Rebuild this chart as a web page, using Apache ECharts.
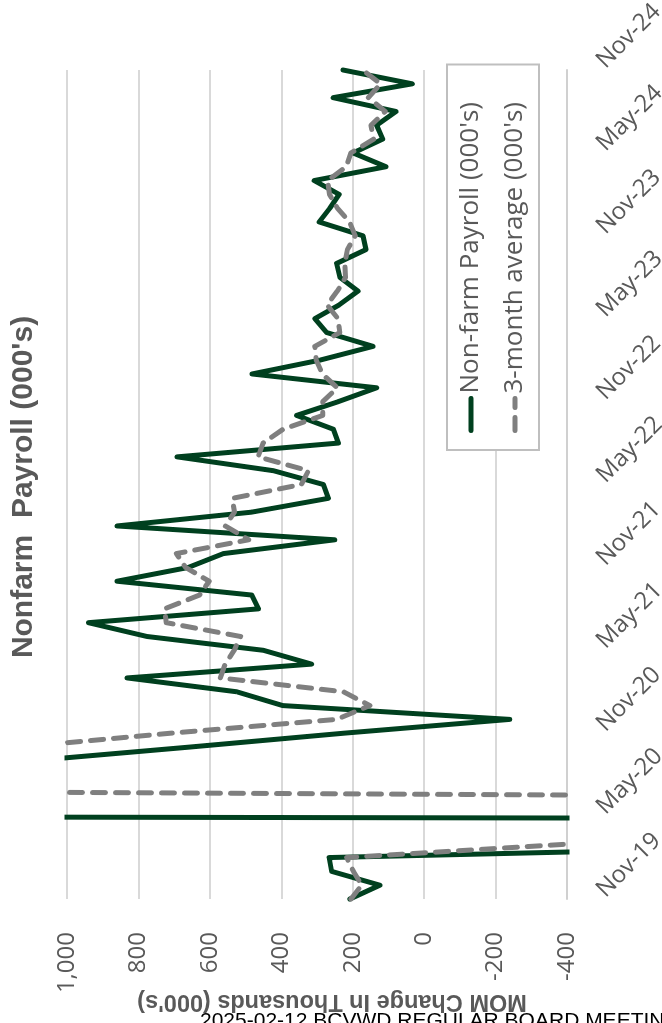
<!DOCTYPE html>
<html>
<head>
<meta charset="utf-8">
<script src="https://cdn.jsdelivr.net/npm/echarts@6.0.0/dist/echarts.min.js"></script>
<style>
  html, body { margin: 0; padding: 0; background: #ffffff; overflow: hidden; width: 662px; height: 1023px; }
  /* the chart is laid out landscape and turned a quarter turn to fit the portrait page */
  #chart {
    position: absolute; left: 0; top: 1023px;
    width: 1023px; height: 662px;
    transform-origin: 0 0; transform: rotate(-90deg);
  }
  #footer {
    position: absolute; left: 200px; top: 1009px;
    font-family: "Liberation Sans", Arial, sans-serif; font-size: 21px; line-height: 21px;
    color: #000000; white-space: nowrap;
  }
</style>
</head>
<body>
<div id="chart"></div>
<div id="footer">2025-02-12 BCVWD REGULAR BOARD MEETING AGENDA PACKAGE</div>
<script>
// Months shown on the category axis (Nov-19 through Nov-24)
var months = [
  "Nov-19","Dec-19",
  "Jan-20","Feb-20","Mar-20","Apr-20","May-20","Jun-20","Jul-20","Aug-20","Sep-20","Oct-20","Nov-20","Dec-20",
  "Jan-21","Feb-21","Mar-21","Apr-21","May-21","Jun-21","Jul-21","Aug-21","Sep-21","Oct-21","Nov-21","Dec-21",
  "Jan-22","Feb-22","Mar-22","Apr-22","May-22","Jun-22","Jul-22","Aug-22","Sep-22","Oct-22","Nov-22","Dec-22",
  "Jan-23","Feb-23","Mar-23","Apr-23","May-23","Jun-23","Jul-23","Aug-23","Sep-23","Oct-23","Nov-23","Dec-23",
  "Jan-24","Feb-24","Mar-24","Apr-24","May-24","Jun-24","Jul-24","Aug-24","Sep-24","Oct-24","Nov-24"
];

// Month-over-month change in nonfarm payrolls (thousands)
var payroll = [
  208, 124,
  259, 266, -1400, -20500, 2800, 4800, 1700, 1500, 1100, 655, 225, -240,
  396, 525, 832, 315, 450, 776, 940, 464, 483, 860, 660, 562,
  250, 860, 483, 268, 282, 422, 692, 240, 254, 357, 240, 133,
  482, 292, 143, 273, 306, 238, 185, 236, 245, 163, 171, 294,
  264, 238, 308, 107, 199, 116, 133, 79, 255, 33, 227
];

// Three-month average of the monthly change (thousands)
var avg3 = [
  205, 175,
  198, 217, -420, -7200, -6400, -4300, 3100, 2700, 1430, 1130, 710, 245,
  152, 226, 571, 557, 532, 514, 722, 727, 629, 602, 668, 694,
  491, 557, 531, 537, 344, 324, 465, 451, 395, 284, 284, 243,
  285, 302, 306, 236, 241, 272, 243, 220, 222, 215, 193, 209,
  243, 265, 270, 218, 205, 141, 149, 109, 156, 122, 172
];

// Value axis range and step
var valueMin = -400;
var valueMax = 1000;
var valueStep = 200;

var seriesNames = ["Non-farm Payroll (000's)", "3-month average (000's)"];
var titleText = "Nonfarm  Payroll (000's)";
var axisTitle = "MOM Change In Thousands (000's)";

var labelFont = "'Open Sans', Lato, sans-serif";
var boldFont = "'Liberation Sans', Arial, sans-serif";
var grey = "#595959";

var chart = echarts.init(document.getElementById('chart'), null, { renderer: 'canvas' });
chart.setOption({
  animation: false,
  backgroundColor: '#ffffff',
  title: {
    text: titleText,
    left: 531,
    textAlign: 'center',
    top: 4,
    textStyle: { fontFamily: boldFont, fontSize: 30, fontWeight: 'bold', color: grey }
  },
  legend: {
    data: seriesNames,
    orient: 'vertical',
    left: 573,
    top: 447,
    padding: [11, 19, 11, 17],
    itemWidth: 32,
    itemHeight: 14,
    itemGap: 18,
    backgroundColor: '#ffffff',
    borderColor: '#bfbfbf',
    borderWidth: 2,
    borderRadius: 0,
    itemStyle: { opacity: 0 },
    lineStyle: { width: 5, cap: 'round' },
    textStyle: { fontFamily: labelFont, fontSize: 26, color: grey, lineHeight: 26, width: 310 }
  },
  grid: { left: 124, right: 70, top: 67, bottom: 95, outerBoundsMode: 'none' },
  xAxis: {
    type: 'category',
    data: months,
    boundaryGap: false,
    axisLine: { show: true, onZero: false, lineStyle: { color: '#d0d0d0', width: 2 } },
    axisTick: { show: false },
    splitLine: { show: false },
    axisLabel: {
      interval: 5,
      rotate: -45,
      margin: 28,
      padding: [0, 0, 0, 8],
      fontFamily: labelFont,
      fontSize: 24,
      color: grey
    }
  },
  yAxis: {
    type: 'value',
    min: valueMin,
    max: valueMax,
    interval: valueStep,
    axisLine: { show: false },
    axisTick: { show: false },
    splitLine: { lineStyle: { color: '#d9d9d9', width: 2 } },
    axisLabel: {
      margin: 33,
      fontFamily: labelFont,
      fontSize: 24,
      color: grey,
      formatter: function (v) { return v.toLocaleString('en-US'); }
    },
    name: axisTitle,
    nameLocation: 'middle',
    nameRotate: 90,
    nameGap: 90,
    nameMoveOverlap: false,
    nameTextStyle: {
      fontFamily: boldFont, fontSize: 23.5, fontWeight: 'bold', color: grey,
      padding: [0, 30, 0, 0]
    }
  },
  series: [
    {
      name: seriesNames[0],
      type: 'line',
      data: payroll,
      symbol: 'none',
      clip: true,
      color: '#00401f',
      lineStyle: { color: '#00401f', width: 5, cap: 'round', join: 'round' },
      z: 2
    },
    {
      name: seriesNames[1],
      type: 'line',
      data: avg3,
      symbol: 'none',
      clip: true,
      color: '#7f7f7f',
      lineStyle: { color: '#7f7f7f', width: 5, type: [13, 10], cap: 'round', join: 'round' },
      z: 3
    }
  ]
});
</script>
</body>
</html>
